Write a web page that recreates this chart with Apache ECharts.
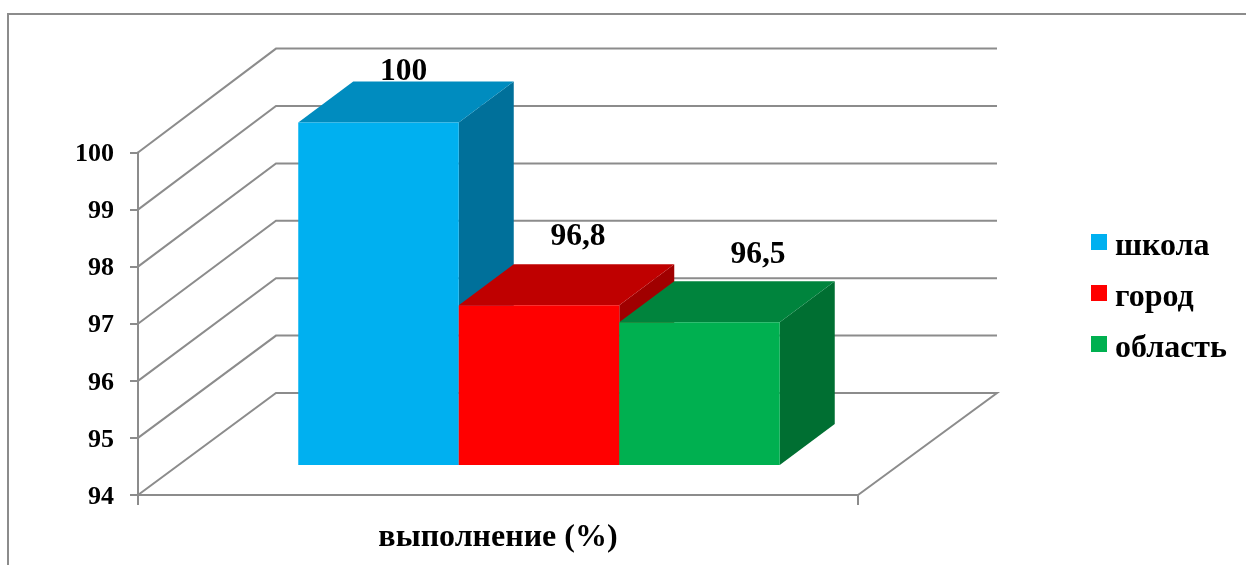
<!DOCTYPE html>
<html>
<head>
<meta charset="utf-8">
<style>html,body{margin:0;padding:0;background:#fff}#c{width:1246px;height:565px}</style>
<script src="https://cdn.jsdelivr.net/npm/echarts@6/dist/echarts.min.js"></script>
</head>
<body>
<div id="c"></div>
<script>
const categories = ['выполнение (%)'];
const seriesNames = ['школа', 'город', 'область'];
const seriesValues = [100, 96.8, 96.5];
const seriesLabels = ['100', '96,8', '96,5'];
const yTicks = [94, 95, 96, 97, 98, 99, 100];

const frontColors = ['#00B0F0', '#FF0000', '#00B050'];
const topColors = ['#008CBF', '#BF0000', '#00843D'];
const sideColors = ['#00709A', '#A00000', '#006F32'];
const labelShift = [[25, -51], [39, -68], [58.5, -67]];

const FONT = '"Liberation Serif", serif';
const GRID = '#8C8C8C';
const WALL_DX = 138, WALL_DY = -102, WALL_SCALE = 1.0055;
const BAR_W = 160.5, BAR_START_DX = 41, BAR_START_DY = -30, BAR_DX = 55, BAR_DY = -41;

function renderWalls(params, api) {
  const v = api.value(1);
  const left = api.coord([0, v]);
  const base = api.coord([0, yTicks[0]]);
  const halfW = api.size([1, 0])[0] / 2;
  const x0 = left[0] - halfW, x1 = left[0] + halfW;
  const backY = base[1] + WALL_DY + (left[1] - base[1]) * WALL_SCALE;
  const pts = [[x0, left[1]], [x0 + WALL_DX, backY], [x1 + WALL_DX + 1, backY]];
  if (v === yTicks[0]) pts.push([x1, base[1]]);
  return { type: 'polyline', shape: { points: pts }, style: { fill: 'none', stroke: GRID, lineWidth: 2 }, silent: true };
}

function barRenderer(i) {
  return function (params, api) {
    const top = api.coord([0, api.value(1)]);
    const base = api.coord([0, yTicks[0]]);
    const cx = top[0] + BAR_START_DX + (i - 1) * BAR_W;
    const l = cx - BAR_W / 2, r = cx + BAR_W / 2;
    const t = top[1] + BAR_START_DY, b = base[1] + BAR_START_DY;
    return {
      type: 'group',
      children: [
        { type: 'polygon', shape: { points: [[r, t], [r + BAR_DX, t + BAR_DY], [r + BAR_DX, b + BAR_DY], [r, b]] }, style: { fill: sideColors[i] } },
        { type: 'polygon', shape: { points: [[l, t], [r, t], [r + BAR_DX, t + BAR_DY], [l + BAR_DX, t + BAR_DY]] }, style: { fill: topColors[i] } },
        { type: 'rect', shape: { x: l, y: t, width: BAR_W, height: b - t }, style: { fill: frontColors[i] } },
        { type: 'text', z2: 100, style: { text: seriesLabels[i], x: cx + labelShift[i][0], y: t + labelShift[i][1], align: 'center', verticalAlign: 'middle', font: 'bold 31.5px ' + FONT, fill: '#000' } }
      ]
    };
  };
}

const series = [{
  name: 'walls', type: 'custom', coordinateSystem: 'cartesian2d', renderItem: renderWalls, clip: false, silent: true, z: 1,
  encode: { x: 0, y: 1 },
  data: yTicks.map(t => [0, t])
}].concat(seriesNames.map((n, i) => ({
  name: n, type: 'custom', coordinateSystem: 'cartesian2d', renderItem: barRenderer(i), clip: false, silent: true, z: 2 + i,
  encode: { x: 0, y: 1 },
  itemStyle: { color: frontColors[i] },
  data: [[0, seriesValues[i]]]
})));

const chart = echarts.init(document.getElementById('c'), null, { renderer: 'canvas' });
chart.setOption({
  animation: false,
  backgroundColor: '#fff',
  grid: { left: 138, right: 388, top: 152.5, bottom: 70, containLabel: false },
  legend: {
    data: seriesNames, orient: 'vertical', left: 1086, top: 216, icon: 'rect',
    itemWidth: 16, itemHeight: 16, itemGap: 9,
    selectedMode: false,
    formatter: '{t|{name}}',
    textStyle: {
      rich: { t: { fontFamily: FONT, fontWeight: 'bold', fontSize: 32, lineHeight: 30, color: '#000', padding: [10, 0, 0, 3] } }
    }
  },
  xAxis: {
    type: 'category', data: categories,
    axisLine: { lineStyle: { color: GRID, width: 2 } },
    axisTick: { show: true, length: 10, lineStyle: { color: GRID, width: 2 } },
    axisLabel: { fontFamily: FONT, fontWeight: 'bold', fontSize: 32, color: '#000', margin: 27 }
  },
  yAxis: {
    type: 'value', min: 94, max: 100, interval: 1,
    splitLine: { show: false },
    axisLine: { show: true, lineStyle: { color: GRID, width: 2 } },
    axisTick: { show: true, length: 8, lineStyle: { color: GRID, width: 2 } },
    axisLabel: {
      margin: 24, formatter: '{t|{value}}',
      rich: { t: { fontFamily: FONT, fontWeight: 'bold', fontSize: 26, color: '#000', padding: [4, 0, 0, 0] } }
    }
  },
  graphic: [{
    type: 'polyline', silent: true,
    shape: { points: [[8, 565], [8, 14], [1246, 14]] },
    style: { fill: 'none', stroke: GRID, lineWidth: 2 }
  }],
  series: series
});
</script>
</body>
</html>
